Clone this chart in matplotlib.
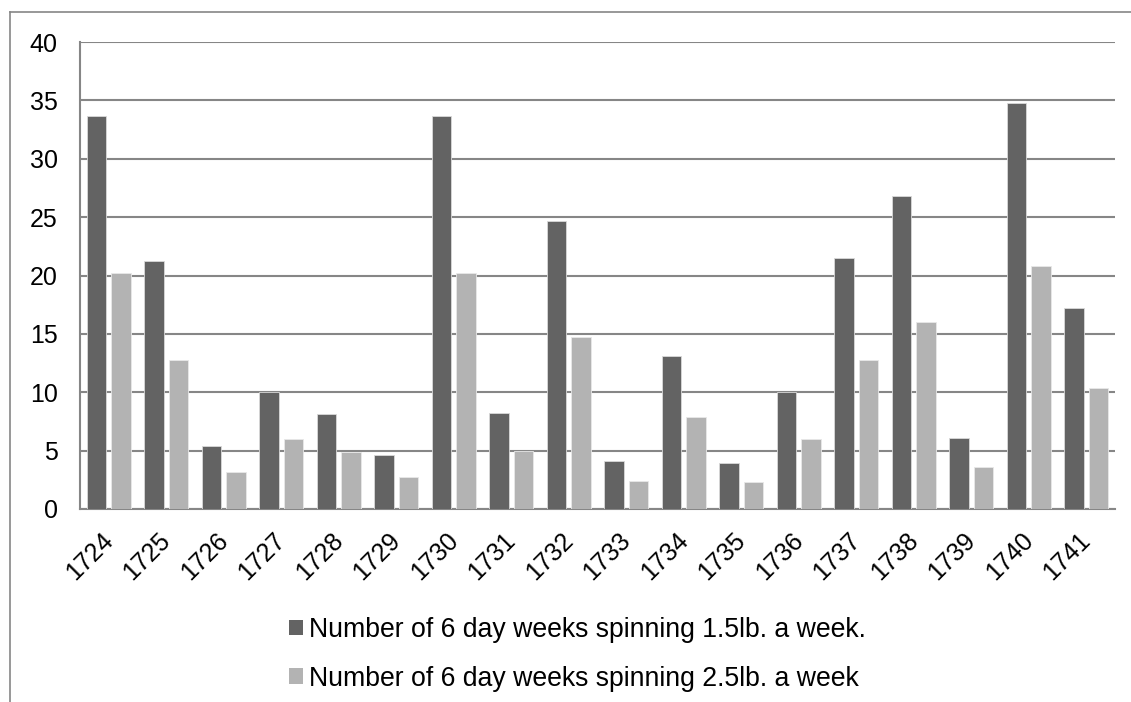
import matplotlib
matplotlib.use("Agg")
import matplotlib.pyplot as plt
import matplotlib.transforms as mtransforms
from matplotlib.lines import Line2D
from matplotlib.patches import Patch
import numpy as np

years = ["1724", "1725", "1726", "1727", "1728", "1729", "1730", "1731", "1732",
         "1733", "1734", "1735", "1736", "1737", "1738", "1739", "1740", "1741"]
weeks_15 = [33.7, 21.2, 5.4, 10.0, 8.1, 4.65, 33.7, 8.25, 24.7,
            4.1, 13.1, 3.9, 10.0, 21.5, 26.8, 6.1, 34.8, 17.25]
weeks_25 = [20.2, 12.8, 3.2, 6.0, 4.9, 2.7, 20.2, 4.95, 14.7,
            2.4, 7.85, 2.3, 6.0, 12.8, 16.05, 3.6, 20.85, 10.35]
series_names = ["Number of 6 day weeks spinning 1.5lb. a week.",
                "Number of 6 day weeks spinning 2.5lb. a week"]
yticks = [0, 5, 10, 15, 20, 25, 30, 35, 40]

plt.rcParams['font.family'] = ['Liberation Sans', 'DejaVu Sans']

W, H = 1131, 702
FS = 18
LFS = 19.2
fig = plt.figure(figsize=(W / 100, H / 100), dpi=100)
ax = fig.add_axes([80 / W, 1 - 509 / H, (1115 - 80) / W, (509 - 42) / H])

dark = "#636363"
light = "#b3b3b3"
x = np.arange(len(years))
bw = 0.34
ax.bar(x - 0.21, weeks_15, bw, color=dark, edgecolor="#d9d9d9", linewidth=0.6, zorder=3)
ax.bar(x + 0.21, weeks_25, bw, color=light, edgecolor="#e8e8e8", linewidth=0.6, zorder=3)

ax.set_xlim(-0.5, len(years) - 0.5)
ax.set_ylim(0, 40)
ax.set_yticks(yticks)
ax.set_yticklabels([str(t) for t in yticks], fontsize=FS)
ax.set_xticks(x)
ax.set_xticklabels(years, rotation=45, ha="right", rotation_mode="anchor", fontsize=FS)
ax.tick_params(axis="y", length=0, pad=16)
ax.tick_params(axis="x", length=0, pad=14)
shift = mtransforms.ScaledTranslation(-8 / 100, 0, fig.dpi_scale_trans)
for lab in ax.get_xticklabels():
    lab.set_transform(lab.get_transform() + shift)
ax.yaxis.grid(True, color="#868686", linewidth=1.5, zorder=0)
ax.set_axisbelow(True)
for s in ["top", "right"]:
    ax.spines[s].set_visible(False)
for s in ["left", "bottom"]:
    ax.spines[s].set_color("#868686")
    ax.spines[s].set_linewidth(1.5)

# outer chart border (top and left visible)
fig.add_artist(Line2D([10 / W, 10 / W], [0, 1 - 12 / H], color="#868686", linewidth=1.2,
                      transform=fig.transFigure))
fig.add_artist(Line2D([10 / W, 1], [1 - 12 / H, 1 - 12 / H], color="#868686", linewidth=1.2,
                      transform=fig.transFigure))

handles = [Patch(facecolor=dark, edgecolor="none"), Patch(facecolor=light, edgecolor="none")]
leg = fig.legend(handles, series_names, loc="upper left", bbox_to_anchor=(289 / W, 1 - 617 / H),
                 frameon=False, fontsize=LFS, handlelength=0.53, handleheight=0.53,
                 handletextpad=0.22, labelspacing=0.85, borderpad=0, borderaxespad=0)

fig.savefig("out.png", dpi=100)
